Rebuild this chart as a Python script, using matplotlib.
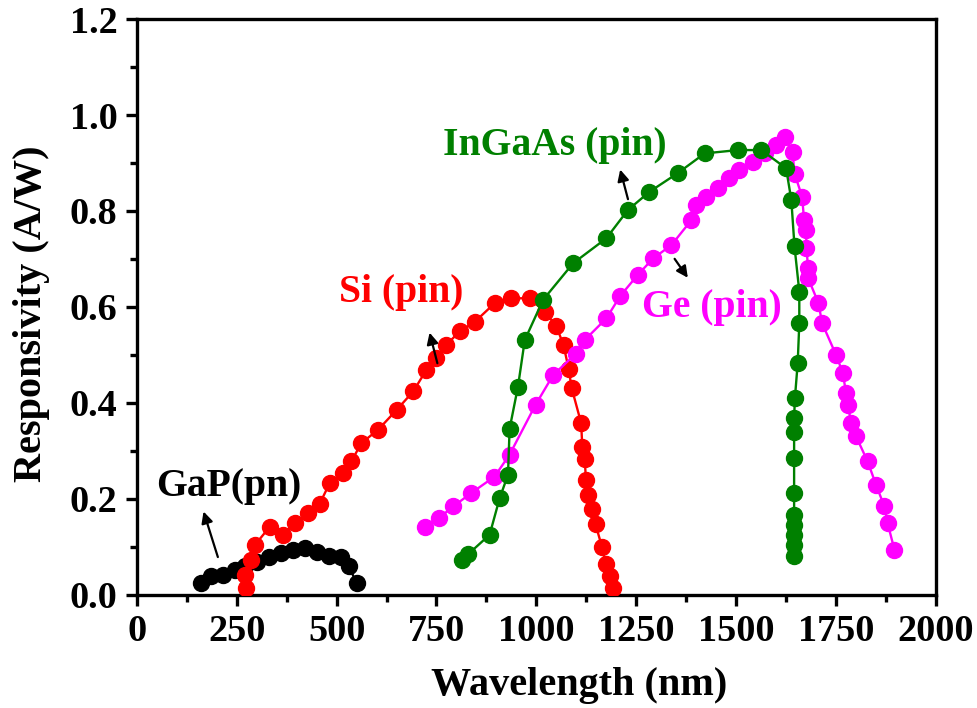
import matplotlib
matplotlib.use("Agg")
import matplotlib.pyplot as plt
from matplotlib.ticker import MultipleLocator

plt.rcParams['font.family'] = ['Liberation Serif', 'DejaVu Serif']
plt.rcParams['font.weight'] = 'bold'

# GaP (pn)
gap_x = [160, 185, 215, 245, 270, 300, 330, 360, 390, 420, 450, 480, 510, 530, 550]
gap_y = [0.024, 0.040, 0.042, 0.052, 0.060, 0.068, 0.079, 0.087, 0.094, 0.097, 0.090, 0.080, 0.078, 0.060, 0.025]

# Si (pin)
si_x = [274, 271, 287, 296, 333, 366, 396, 428, 458, 483, 517, 537, 562, 604, 650, 692, 725, 750, 775, 808,
        846, 896, 937, 983, 1021, 1050, 1068, 1081, 1088, 1112, 1115, 1121, 1124, 1128, 1138, 1148, 1164, 1173,
        1185, 1192]
si_y = [0.014, 0.042, 0.073, 0.104, 0.142, 0.125, 0.149, 0.170, 0.190, 0.233, 0.253, 0.278, 0.316, 0.344,
        0.385, 0.424, 0.469, 0.493, 0.521, 0.549, 0.569, 0.608, 0.618, 0.618, 0.590, 0.560, 0.520, 0.470,
        0.432, 0.358, 0.308, 0.283, 0.240, 0.208, 0.178, 0.147, 0.100, 0.065, 0.040, 0.014]

# InGaAs (pin)
ingaas_x = [815, 830, 883, 908, 929, 933, 954, 971, 1017, 1092, 1175, 1229, 1283, 1354, 1421, 1504, 1563,
            1625, 1638, 1646, 1658, 1658, 1654, 1647, 1645, 1645, 1645, 1645, 1645, 1645, 1645, 1645, 1645]
ingaas_y = [0.072, 0.085, 0.125, 0.201, 0.250, 0.346, 0.434, 0.531, 0.615, 0.691, 0.743, 0.802, 0.840,
            0.879, 0.920, 0.927, 0.927, 0.889, 0.823, 0.726, 0.632, 0.566, 0.483, 0.410, 0.368, 0.340,
            0.285, 0.212, 0.167, 0.146, 0.125, 0.104, 0.080]

# Ge (pin)
ge_x = [721, 756, 792, 837, 895, 933, 998, 1042, 1098, 1121, 1175, 1210, 1254, 1292, 1338, 1388, 1400, 1425,
        1454, 1483, 1508, 1542, 1571, 1600, 1621, 1641, 1646, 1665, 1670, 1675, 1676, 1680, 1680, 1706, 1715,
        1750, 1767, 1775, 1779, 1788, 1800, 1829, 1850, 1871, 1879, 1896]
ge_y = [0.142, 0.160, 0.184, 0.212, 0.246, 0.292, 0.396, 0.458, 0.502, 0.531, 0.576, 0.623, 0.667, 0.701,
        0.729, 0.781, 0.813, 0.830, 0.847, 0.868, 0.885, 0.903, 0.920, 0.938, 0.955, 0.924, 0.878, 0.830,
        0.781, 0.760, 0.722, 0.681, 0.660, 0.608, 0.566, 0.500, 0.462, 0.420, 0.396, 0.358, 0.330, 0.278,
        0.229, 0.184, 0.149, 0.094]

x_ticks = [0, 250, 500, 750, 1000, 1250, 1500, 1750, 2000]
y_ticks = [0.0, 0.2, 0.4, 0.6, 0.8, 1.0, 1.2]

fig = plt.figure(figsize=(9.77, 7.08), dpi=100)
ax = fig.add_axes([0.14, 0.16, 0.818, 0.813])

ms = 11.5
lw = 1.7
ax.plot(gap_x, gap_y, '-o', color='black', ms=ms, lw=lw, zorder=2)
ax.plot(si_x, si_y, '-o', color='#FF0000', ms=ms, lw=lw, zorder=3)
ax.plot(ge_x, ge_y, '-o', color='#FF00FF', ms=ms, lw=lw, zorder=4)
ax.plot(ingaas_x, ingaas_y, '-o', color='#008000', ms=ms, lw=lw, zorder=5)

ax.set_xlim(0, 2000)
ax.set_ylim(0, 1.2)
ax.set_xticks(x_ticks)
ax.set_yticks(y_ticks)
ax.set_yticklabels([f"{v:.1f}" for v in y_ticks])
ax.xaxis.set_minor_locator(MultipleLocator(125))
ax.yaxis.set_minor_locator(MultipleLocator(0.1))

for s in ax.spines.values():
    s.set_linewidth(2.4)
ax.tick_params(axis='both', which='major', direction='out', length=8, width=2.4,
               labelsize=27.5, pad=6, top=False, right=False)
ax.tick_params(axis='both', which='minor', direction='out', length=5, width=2.4,
               top=False, right=False)
for lab in ax.get_xticklabels() + ax.get_yticklabels():
    lab.set_fontweight('bold')

ax.set_xlabel('Wavelength (nm)', fontsize=29, fontweight='bold')
ax.set_ylabel('Responsivity (A/W)', fontsize=29, fontweight='bold')
ax.xaxis.set_label_coords(0.554, -0.125)
ax.yaxis.set_label_coords(-0.108, 0.488)

fs = 28.5
ax.text(231, 0.225, 'GaP(pn)', color='black', fontsize=fs, fontweight='bold', ha='center', va='center')
ax.text(661, 0.631, 'Si (pin)', color='#FF0000', fontsize=fs, fontweight='bold', ha='center', va='center')
ax.text(1046, 0.9375, 'InGaAs (pin)', color='#008000', fontsize=fs, fontweight='bold', ha='center', va='center')
ax.text(1438, 0.598, 'Ge (pin)', color='#FF00FF', fontsize=fs, fontweight='bold', ha='center', va='center')

arrow = dict(arrowstyle='-|>', color='black', lw=1.6, mutation_scale=17)
ax.annotate('', xy=(165, 0.179), xytext=(205, 0.073), arrowprops=arrow, zorder=6)
ax.annotate('', xy=(731, 0.552), xytext=(754, 0.477), arrowprops=arrow, zorder=6)
ax.annotate('', xy=(1208, 0.892), xytext=(1231, 0.819), arrowprops=arrow, zorder=6)
ax.annotate('', xy=(1383, 0.656), xytext=(1342, 0.705), arrowprops=arrow, zorder=6)

fig.savefig('out.png', dpi=100)
